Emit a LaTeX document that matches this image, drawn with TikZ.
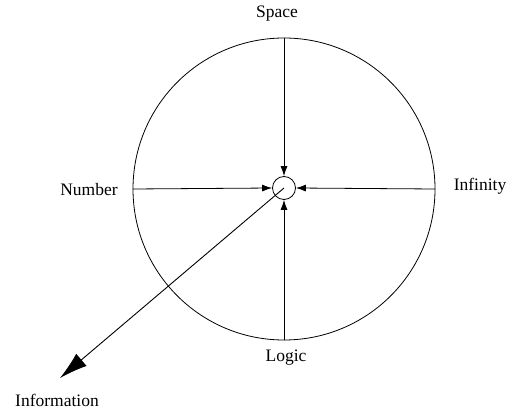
\documentclass[tikz,border=0pt]{standalone}
\usepackage{fontspec}
\setmainfont{Liberation Serif}
\usetikzlibrary{arrows.meta}
\begin{document}
\begin{tikzpicture}[x=1pt,y=-1pt,
  lbl/.style={font=\fontsize{17.5}{20}\selectfont, inner sep=0pt},
  arr/.style={line width=0.8pt, -{Latex[length=10pt,width=7pt]}},
  bigarr/.style={line width=0.9pt, -{Latex[length=28pt,width=16pt]}},
  ring/.style={draw, line width=0.8pt}]
\useasboundingbox (0,0) rectangle (508,411);
\fill[white] (0,0) rectangle (508,411);
\node[ring, circle, minimum size=302pt, inner sep=0pt] (big) at (284,189) {};
\node[ring, circle, minimum size=23pt, inner sep=0pt] (c) at (284,188) {};
\coordinate (top) at (big.north);
\coordinate (bot) at (big.south);
\coordinate (lft) at (big.west);
\coordinate (rgt) at (big.east);
\coordinate (tip) at (60,378);
\draw[arr] (top) -- (c.north);
\draw[arr] (bot) -- (c.south);
\draw[arr] (lft) -- (c.west);
\draw[arr] (rgt) -- (c.east);
\draw[bigarr] (c.center) -- (tip);
\node[lbl] (space) at (277,14) {Space};
\node[lbl] (number) at (89,190) {Number};
\node[lbl] (infinity) at (480,186) {Infinity};
\node[lbl] (logic) at (286,358) {Logic};
\node[lbl] (info) at (57,400) {Information};
\end{tikzpicture}
\end{document}
